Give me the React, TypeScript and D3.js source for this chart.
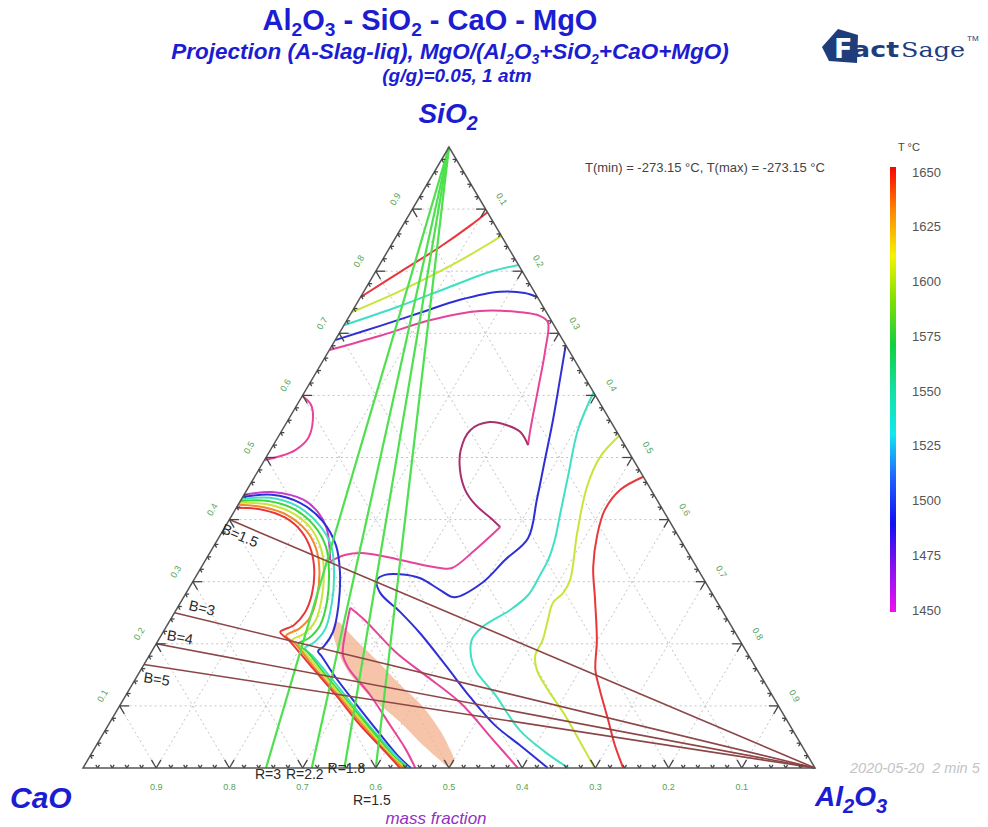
import React from "react";
import * as d3 from "d3";

const W = 988;
const H = 827;

// ---- Data: ternary mass fractions [Al2O3, SiO2]; CaO = 1 - Al2O3 - SiO2 ----
const isoRedTop = [[0, 0.758], [0.034, 0.799], [0.068, 0.839], [0.092, 0.873], [0.105, 0.895]];
const isoYellowTop = [[0, 0.734], [0.049, 0.768], [0.097, 0.808], [0.133, 0.845], [0.143, 0.857]];
const isoCyanTop = [[0, 0.713], [0.061, 0.744], [0.114, 0.775], [0.157, 0.799], [0.19, 0.81]];
const isoBlueTop = [[0, 0.689], [0.05, 0.712], [0.094, 0.733], [0.138, 0.754], [0.186, 0.767], [0.221, 0.765], [0.242, 0.758]];
const isoPinkMain = [[0, 0.673], [0.058, 0.696], [0.113, 0.721], [0.174, 0.736], [0.23, 0.734], [0.26, 0.728], [0.276, 0.718], [0.295, 0.673], [0.317, 0.609], [0.339, 0.544], [0.348, 0.52]];
const isoPlumLoop = [[0.348, 0.52], [0.327, 0.541], [0.303, 0.552], [0.277, 0.557], [0.257, 0.544], [0.26, 0.512], [0.275, 0.48], [0.298, 0.448], [0.324, 0.424], [0.355, 0.403], [0.376, 0.388]];
const isoPinkLower = [[0.376, 0.388], [0.36, 0.351], [0.343, 0.322], [0.327, 0.322], [0.266, 0.335], [0.212, 0.346], [0.186, 0.343], [0.171, 0.332]];
const isoPinkBump = [[0, 0.599], [0.019, 0.585], [0.034, 0.56], [0.042, 0.531], [0.034, 0.512], [0.018, 0.502], [0, 0.496]];

const arcRed = [[0, 0.419], [0.037, 0.416], [0.075, 0.403], [0.109, 0.38], [0.136, 0.351], [0.158, 0.316], [0.173, 0.279], [0.178, 0.25], [0.173, 0.23], [0.16, 0.219], [0.178, 0.206], [0.227, 0.166], [0.286, 0.118], [0.344, 0.069], [0.4, 0.026], [0.433, 0]];
const arcOrange = [[0, 0.424], [0.037, 0.42], [0.076, 0.407], [0.113, 0.383], [0.142, 0.353], [0.165, 0.316], [0.182, 0.275], [0.189, 0.243], [0.183, 0.224], [0.171, 0.213], [0.19, 0.2], [0.236, 0.161], [0.295, 0.113], [0.351, 0.066], [0.405, 0.023], [0.437, 0]];
const arcYellow = [[0, 0.427], [0.037, 0.425], [0.078, 0.412], [0.117, 0.387], [0.148, 0.354], [0.171, 0.316], [0.19, 0.272], [0.199, 0.237], [0.194, 0.216], [0.183, 0.206], [0.201, 0.193], [0.246, 0.156], [0.302, 0.11], [0.358, 0.063], [0.41, 0.021], [0.44, 0]];
const arcGreen = [[0, 0.43], [0.038, 0.43], [0.08, 0.417], [0.121, 0.39], [0.154, 0.356], [0.178, 0.316], [0.199, 0.269], [0.209, 0.23], [0.204, 0.209], [0.194, 0.2], [0.213, 0.187], [0.255, 0.151], [0.309, 0.106], [0.365, 0.06], [0.415, 0.019], [0.443, 0]];
const arcCyan = [[0, 0.433], [0.038, 0.435], [0.081, 0.422], [0.125, 0.393], [0.16, 0.358], [0.185, 0.316], [0.207, 0.266], [0.219, 0.224], [0.215, 0.203], [0.207, 0.193], [0.224, 0.18], [0.264, 0.147], [0.316, 0.103], [0.372, 0.056], [0.42, 0.018], [0.445, 0]];
const arcBlue = [[0, 0.436], [0.038, 0.44], [0.083, 0.427], [0.128, 0.398], [0.166, 0.359], [0.193, 0.316], [0.218, 0.262], [0.232, 0.219], [0.231, 0.196], [0.227, 0.188], [0.236, 0.18], [0.271, 0.147], [0.324, 0.101], [0.378, 0.055], [0.425, 0.016], [0.448, 0]];
const arcMagenta = [[0, 0.44], [0.039, 0.444], [0.085, 0.432], [0.115, 0.412], [0.139, 0.387], [0.157, 0.359], [0.17, 0.335]];

const pinkRightBranch = [[0.236, 0.258], [0.266, 0.238], [0.336, 0.185], [0.392, 0.15], [0.463, 0.105], [0.538, 0.045], [0.594, 0]];
const pinkLeftBranch = [[0.236, 0.258], [0.248, 0.222], [0.264, 0.182], [0.282, 0.161], [0.333, 0.118], [0.385, 0.069], [0.424, 0.032], [0.454, 0]];
const blueInner = [[0.319, 0.681], [0.339, 0.625], [0.362, 0.56], [0.383, 0.496], [0.404, 0.432], [0.423, 0.37], [0.409, 0.335], [0.396, 0.298], [0.37, 0.275], [0.344, 0.287], [0.307, 0.306], [0.277, 0.312], [0.257, 0.311], [0.25, 0.303], [0.265, 0.282], [0.308, 0.251], [0.352, 0.217], [0.412, 0.166], [0.472, 0.114], [0.528, 0.069], [0.578, 0.037], [0.635, 0]];
const cyanRight = [[0.395, 0.605], [0.404, 0.544], [0.427, 0.472], [0.448, 0.407], [0.461, 0.367], [0.468, 0.335], [0.469, 0.311], [0.469, 0.279], [0.456, 0.254], [0.432, 0.227], [0.428, 0.206], [0.442, 0.177], [0.46, 0.155], [0.504, 0.118], [0.566, 0.061], [0.618, 0.026], [0.663, 0]];
const yellowRight = [[0.465, 0.535], [0.456, 0.501], [0.462, 0.453], [0.486, 0.378], [0.514, 0.303], [0.515, 0.282], [0.509, 0.266], [0.516, 0.238], [0.525, 0.206], [0.527, 0.182], [0.541, 0.158], [0.572, 0.126], [0.616, 0.085], [0.663, 0.037], [0.699, 0]];
const redRight = [[0.531, 0.469], [0.51, 0.448], [0.505, 0.416], [0.515, 0.375], [0.535, 0.324], [0.564, 0.271], [0.599, 0.206], [0.621, 0.158], [0.643, 0.126], [0.679, 0.077], [0.708, 0.037], [0.738, 0]];

const bandRegion = [[0.228, 0.227], [0.253, 0.19], [0.285, 0.155], [0.338, 0.113], [0.396, 0.074], [0.439, 0.042], [0.481, 0.013], [0.498, 0.002], [0.502, 0.01], [0.48, 0.037], [0.457, 0.061], [0.412, 0.101], [0.366, 0.134], [0.318, 0.171], [0.274, 0.203], [0.245, 0.225], [0.231, 0.235]];

// R = CaO/Al2O3 lines from SiO2 apex; B = CaO/SiO2 lines from Al2O3 corner
const rValues = [3, 2.2, 1.8, 1.5];
const rLabels = ["R=3", "R=2.2", "R=1.8", "R=1.5"];
const bValues = [1.5, 3, 4, 5];
const bLabels = ["B=1.5", "B=3", "B=4", "B=5"];

const gridTicks = [0.1, 0.2, 0.3, 0.4, 0.5, 0.6, 0.7, 0.8, 0.9];
const tickLabels = ["0.1", "0.2", "0.3", "0.4", "0.5", "0.6", "0.7", "0.8", "0.9"];
const cbTicks = [1650, 1625, 1600, 1575, 1550, 1525, 1500, 1475, 1450];
const cbColors = ["#ff0000", "#ff8a00", "#f4f400", "#7ee000", "#10d040", "#14e0a0", "#10e8f0", "#2060ff", "#1010f0", "#8a10f0", "#f010f0"];

// ---- geometry ----
const X0 = 83, X1 = 815, XTOP = 449, YB = 768, YT = 147;
const xA = d3.scaleLinear().domain([0, 1]).range([X0, X1]);
const xS = d3.scaleLinear().domain([0, 1]).range([0, XTOP - X0]);
const yS = d3.scaleLinear().domain([0, 1]).range([YB, YT]);
const px = (a: number, s: number): [number, number] => [xA(a) + xS(s), yS(s)];
const EDGE_ANG = (Math.atan2(YB - YT, XTOP - X0) * 180) / Math.PI;

const RED = "#e8363a", ORANGE = "#f08a2a", YELLOW = "#c9e43a", GREEN = "#3ed63e", CYAN = "#3fe0c4",
  BLUE = "#2f2fd6", MAGENTA = "#c83ccc", PINK = "#e6449a", PLUM = "#a8306c";

const FONT = "'Liberation Sans', Arial, Helvetica, sans-serif";
const TITLE_BLUE = "#1c1cd2";

function chem(text: string, size: number, subScale = 0.68, shift = 0.28) {
  const out: any[] = [];
  let cur = "";
  let curSub = false;
  let inSub = false;
  let k = 0;
  const flush = () => {
    if (!cur) return;
    if (curSub) {
      out.push(<tspan key={k++} fontSize={size * subScale} dy={size * shift}>{cur}</tspan>);
      inSub = true;
    } else {
      out.push(<tspan key={k++} dy={inSub ? -size * shift : 0}>{cur}</tspan>);
      inSub = false;
    }
    cur = "";
  };
  for (let i = 0; i < text.length; i++) {
    const ch = text[i];
    const sub = /\d/.test(ch) && i > 0 && /[A-Za-z]/.test(text[i - 1]);
    if (sub !== curSub) { flush(); curSub = sub; }
    cur += ch;
  }
  flush();
  return out;
}

export default function App() {
  const line = d3.line<number[]>()
    .x((d) => px(d[0], d[1])[0])
    .y((d) => px(d[0], d[1])[1])
    .curve(d3.curveCatmullRom.alpha(0.5));
  const closed = d3.line<number[]>()
    .x((d) => px(d[0], d[1])[0])
    .y((d) => px(d[0], d[1])[1])
    .curve(d3.curveCatmullRomClosed.alpha(0.5));
  const straight = d3.line<number[]>()
    .x((d) => px(d[0], d[1])[0])
    .y((d) => px(d[0], d[1])[1]);

  const curves: [number[][], string][] = [
    [isoPinkMain, PINK], [isoPlumLoop, PLUM], [isoPinkLower, PINK], [isoPinkBump, PINK],
    [isoRedTop, RED], [isoYellowTop, YELLOW], [isoCyanTop, CYAN], [isoBlueTop, BLUE],
    [arcMagenta, MAGENTA], [arcBlue, BLUE], [arcCyan, CYAN], [arcGreen, GREEN], [arcYellow, YELLOW], [arcOrange, ORANGE], [arcRed, RED],
    [pinkLeftBranch, PINK], [pinkRightBranch, PINK], [blueInner, BLUE], [cyanRight, CYAN], [yellowRight, YELLOW], [redRight, RED],
  ];

  // grid
  const grid: [number, number][][] = [];
  gridTicks.forEach((t) => {
    grid.push([px(0, t), px(1 - t, t)]);
    grid.push([px(t, 0), px(t, 1 - t)]);
    grid.push([px(1 - t, 0), px(0, 1 - t)]);
  });

  // ticks
  const ticks: [number, number][][] = [];
  const minor = d3.range(1, 50).map((i) => i / 50).filter((t) => Math.abs(t * 10 - Math.round(t * 10)) > 1e-6);
  const addV = (t: number, L: number) => {
    ticks.push([px(t, 0), px(t, L)], [px(t, 0), px(t - L, L)]);
    ticks.push([px(0, t), px(L, t)], [px(0, t), px(L, t - L)]);
    ticks.push([px(t, 1 - t), px(t, 1 - t - L)], [px(t, 1 - t), px(t - L, 1 - t)]);
  };
  gridTicks.forEach((t) => addV(t, 0.013));
  minor.forEach((t) => addV(t, 0.005));

  const cbY = d3.scaleLinear().domain([1450, 1650]).range([610, 172]);
  const tri = [px(0, 0), px(1, 0), px(0, 1)];

  const bOffsets = [[-9, 13], [13.5, -3], [10, -4], [-1, 17.5]];
  const rOffsets = [[2, 10.5], [-7, 10.5], [2, 5], [-4, 37]];

  return (
    <svg width={W} height={H} style={{ position: "absolute", left: 0, top: 0, background: "#fff" }} fontFamily={FONT}>
      <defs>
        <linearGradient id="cbGrad" x1="0" y1="0" x2="0" y2="1">
          {cbColors.map((c, i) => (
            <stop key={i} offset={i / (cbColors.length - 1)} stopColor={c} />
          ))}
        </linearGradient>
      </defs>

      {/* titles */}
      <text x={430} y={30} textAnchor="middle" fontSize={29} fontWeight="bold" fill={TITLE_BLUE}>
        {chem("Al2O3 - SiO2 - CaO - MgO", 29, 0.66, 0.22)}
      </text>
      <text x={450} y={59} textAnchor="middle" fontSize={22.5} fontWeight="bold" fontStyle="italic" fill={TITLE_BLUE}>
        {chem("Projection (A-Slag-liq), MgO/(Al2O3+SiO2+CaO+MgO)", 22.5, 0.62, 0.2)}
      </text>
      <text x={457} y={82} textAnchor="middle" fontSize={19} fontWeight="bold" fontStyle="italic" fill={TITLE_BLUE}>
        (g/g)=0.05, 1 atm
      </text>

      {/* logo */}
      <g>
        <polygon points="822,47 838,29 858,35 857,63 829,61" fill="#1f3d7a" />
        <text x={834} y={58} fontSize={27} fontWeight="bold" fill="#fff" fontFamily="'DejaVu Sans', sans-serif">F</text>
        <text x={852} y={57} fontSize={22} fontWeight="bold" fill="#1f3d7a" fontFamily="'DejaVu Sans', sans-serif" textLength={47} lengthAdjust="spacingAndGlyphs">act</text>
        <text x={901} y={57} fontSize={21} fill="#1f3d7a" fontFamily="'DejaVu Serif', serif" textLength={64} lengthAdjust="spacingAndGlyphs">Sage</text>
        <text x={967} y={41} fontSize={8} fill="#1f3d7a">TM</text>
      </g>

      {/* grid */}
      {grid.map((g, i) => (
        <line key={i} x1={g[0][0]} y1={g[0][1]} x2={g[1][0]} y2={g[1][1]} stroke="#c4c4c4" strokeWidth={1} strokeDasharray="2,3" />
      ))}

      {/* highlighted band */}
      <path d={closed(bandRegion) || ""} fill="#f2b08c" fillOpacity={0.75} stroke="none" />

      {/* isotherms */}
      {curves.map(([d, c], i) => (
        <path key={i} d={line(d) || ""} fill="none" stroke={c} strokeWidth={2} strokeLinejoin="round" />
      ))}

      {/* R lines */}
      {rValues.map((r, i) => (
        <path key={i} d={straight([[0, 1], [1 / (1 + r), 0]]) || ""} stroke="#4ee04e" strokeWidth={2.2} fill="none" />
      ))}
      {/* B lines */}
      {bValues.map((b, i) => (
        <path key={i} d={straight([[1, 0], [0, 1 / (1 + b)]]) || ""} stroke="#8c4646" strokeWidth={1.6} fill="none" />
      ))}

      {/* frame */}
      <polygon points={tri.map((p) => p.join(",")).join(" ")} fill="none" stroke="#555" strokeWidth={1.5} />
      {ticks.map((t, i) => (
        <line key={i} x1={t[0][0]} y1={t[0][1]} x2={t[1][0]} y2={t[1][1]} stroke="#444" strokeWidth={1.3} />
      ))}

      {/* tick labels */}
      {gridTicks.map((t, i) => {
        const [bx, by] = px(t, 0);
        const [lx, ly] = px(0, t);
        const [rx, ry] = px(t, 1 - t);
        return (
          <g key={i} fontSize={9} fill="#55a255">
            <text x={bx} y={by + 22} textAnchor="middle">{tickLabels[8 - i]}</text>
            <text transform={`translate(${lx - 17},${ly - 10}) rotate(${-EDGE_ANG})`} textAnchor="middle" dominantBaseline="central">{tickLabels[i]}</text>
            <text transform={`translate(${rx + 16},${ry - 10}) rotate(${EDGE_ANG})`} textAnchor="middle" dominantBaseline="central">{tickLabels[i]}</text>
          </g>
        );
      })}

      {/* B labels */}
      {bValues.map((b, i) => {
        const [x, y] = px(0, 1 / (1 + b));
        const [ex, ey] = px(1, 0);
        const ang = (Math.atan2(ey - y, ex - x) * 180) / Math.PI;
        return (
          <text key={i} transform={`translate(${x + bOffsets[i][0]},${y + bOffsets[i][1]}) rotate(${ang})`} fontSize={14.5} fill="#2a2a2a">
            {bLabels[i]}
          </text>
        );
      })}
      {/* R labels */}
      {rValues.map((r, i) => {
        const [x, y] = px(1 / (1 + r), 0);
        return (
          <text key={i} x={x + rOffsets[i][0]} y={y + rOffsets[i][1]} textAnchor="middle" fontSize={14} fill="#2a2a2a">
            {rLabels[i]}
          </text>
        );
      })}

      {/* corner labels */}
      <text x={448} y={123} textAnchor="middle" fontSize={28} fontWeight="bold" fontStyle="italic" fill={TITLE_BLUE}>
        {chem("SiO2", 28, 0.7, 0.25)}
      </text>
      <text x={10} y={808} fontSize={30} fontWeight="bold" fontStyle="italic" fill={TITLE_BLUE}>CaO</text>
      <text x={815} y={806} fontSize={28} fontWeight="bold" fontStyle="italic" fill={TITLE_BLUE}>
        {chem("Al2O3", 28, 0.72, 0.25)}
      </text>
      <text x={436} y={824} textAnchor="middle" fontSize={17} fontStyle="italic" fill="#9232c2">mass fraction</text>

      {/* info texts */}
      <text x={585} y={172} fontSize={13} fill="#444">T(min) = -273.15 °C, T(max) = -273.15 °C</text>
      <text x={850} y={773} fontSize={14.5} fontStyle="italic" fill="#c4c4c4" style={{ whiteSpace: "pre" }}>2020-05-20  2 min 5</text>

      {/* colorbar */}
      <text x={898} y={151} fontSize={11} fill="#444">T °C</text>
      <rect x={890} y={167} width={6} height={445} fill="url(#cbGrad)" />
      {cbTicks.map((v) => (
        <text key={v} x={912} y={cbY(v) + 4.5} fontSize={13} fill="#555">{v}</text>
      ))}
    </svg>
  );
}
